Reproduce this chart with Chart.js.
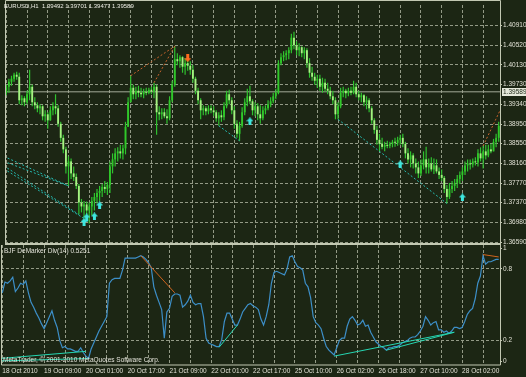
<!DOCTYPE html>
<html lang="en">
<head>
<meta charset="UTF-8">
<title>EURUSD,H1</title>
<script src="https://cdn.jsdelivr.net/npm/chart.js@4.4.0/dist/chart.umd.min.js"></script>
<style>
  html, body { margin: 0; padding: 0; background: #1c2614; }
  #wrap { position: relative; width: 526px; height: 377px; overflow: hidden; background: #1c2614; }
  #priceBox { position: absolute; left: 0; top: 0; width: 526px; height: 252px; }
  #demBox { position: absolute; left: 0; top: 245px; width: 526px; height: 132px; }
</style>
</head>
<body>
<div id="wrap">
  <div id="demBox"><canvas id="dem"></canvas></div>
  <div id="priceBox"><canvas id="price"></canvas></div>
</div>
<script>
// ---- data (EURUSD H1, one value per bar, bar 0 = 18 Oct 2010 17:00) ----
const titleText = 'EURUSD,H1  1.39492 1.39701 1.39477 1.39589';
const demTitle = 'BJF DeMarker Div(14) 0.5251';
const copyText = 'MetaTrader, \u00a9 2001-2010 MetaQuotes Software Corp.';
const bidPrice = 1.39589;
const bidLabel = '1.39589';

const timeLabels = ['18 Oct 2010', '19 Oct 09:00', '20 Oct 01:00', '20 Oct 17:00', '21 Oct 09:00', '22 Oct 01:00',
  '22 Oct 17:00', '25 Oct 10:00', '26 Oct 02:00', '26 Oct 18:00', '27 Oct 10:00', '28 Oct 02:00'];
const priceTickLabels = ['1.36590', '1.36980', '1.37370', '1.37770', '1.38160', '1.38550',
  '1.38950', '1.39340', '1.39730', '1.40130', '1.40520', '1.40910'];
const demTickLabels = ['0', '0.2', '0.8', '1'];

const openP = [
  1.3957, 1.3969, 1.3979, 1.3985, 1.3993, 1.3989, 1.3942, 1.3946, 1.3938, 1.3954,
  1.3969, 1.3938, 1.3932, 1.3926, 1.3930, 1.3910, 1.3914, 1.3902, 1.3922, 1.3930,
  1.3926, 1.3895, 1.3867, 1.3844, 1.3810, 1.3820, 1.3796, 1.3789, 1.3771, 1.3738,
  1.3730, 1.3734, 1.3722, 1.3730, 1.3741, 1.3749, 1.3757, 1.3761, 1.3769, 1.3765,
  1.3773, 1.3810, 1.3824, 1.3836, 1.3840, 1.3836, 1.3846, 1.3889, 1.3938, 1.3967,
  1.3954, 1.3961, 1.3957, 1.3954, 1.3959, 1.3957, 1.3963, 1.3959, 1.3969, 1.3918,
  1.3914, 1.3918, 1.3910, 1.3906, 1.3942, 1.3973, 1.4024, 1.4020, 1.4028, 1.4009,
  1.4016, 1.4011, 1.4003, 1.3985, 1.3961, 1.3942, 1.3922, 1.3926, 1.3920, 1.3926,
  1.3922, 1.3918, 1.3906, 1.3912, 1.3908, 1.3930, 1.3954, 1.3942, 1.3922, 1.3895,
  1.3875, 1.3891, 1.3918, 1.3938, 1.3950, 1.3940, 1.3922, 1.3930, 1.3914, 1.3906,
  1.3922, 1.3926, 1.3934, 1.3940, 1.3950, 1.3957, 1.4016, 1.4028, 1.4032, 1.4036,
  1.4042, 1.4067, 1.4052, 1.4042, 1.4048, 1.4036, 1.4042, 1.4016, 1.3997, 1.3989,
  1.3981, 1.3985, 1.3969, 1.3977, 1.3965, 1.3961, 1.3950, 1.3942, 1.3914, 1.3930,
  1.3957, 1.3961, 1.3956, 1.3961, 1.3957, 1.3969, 1.3954, 1.3948, 1.3952, 1.3938,
  1.3942, 1.3926, 1.3902, 1.3883, 1.3863, 1.3855, 1.3849, 1.3853, 1.3851, 1.3855,
  1.3859, 1.3857, 1.3863, 1.3867, 1.3855, 1.3836, 1.3824, 1.3832, 1.3816, 1.3808,
  1.3796, 1.3812, 1.3824, 1.3808, 1.3816, 1.3804, 1.3812, 1.3800, 1.3793, 1.3787,
  1.3765, 1.3749, 1.3765, 1.3771, 1.3777, 1.3785, 1.3793, 1.3800, 1.3812, 1.3816,
  1.3814, 1.3820, 1.3818, 1.3836, 1.3826, 1.3840, 1.3832, 1.3844, 1.3840, 1.3859,
  1.3867];
const highP = [
  1.3973, 1.3985, 1.3991, 1.3997, 1.3999, 1.3997, 1.3952, 1.3950, 1.3961, 1.4003,
  1.3973, 1.3948, 1.3938, 1.3934, 1.3932, 1.3922, 1.3918, 1.3930, 1.3938, 1.3954,
  1.3932, 1.3899, 1.3873, 1.3849, 1.3830, 1.3826, 1.3810, 1.3796, 1.3775, 1.3745,
  1.3741, 1.3740, 1.3738, 1.3749, 1.3757, 1.3765, 1.3771, 1.3775, 1.3781, 1.3779,
  1.3820, 1.3836, 1.3846, 1.3848, 1.3853, 1.3853, 1.3899, 1.3948, 1.3991, 1.3973,
  1.3969, 1.3971, 1.3967, 1.3965, 1.3967, 1.3967, 1.3969, 1.3977, 1.3973, 1.3930,
  1.3926, 1.3926, 1.3924, 1.3950, 1.3981, 1.4050, 1.4036, 1.4032, 1.4030, 1.4026,
  1.4024, 1.4020, 1.4012, 1.3989, 1.3967, 1.3946, 1.3932, 1.3930, 1.3932, 1.3932,
  1.3930, 1.3922, 1.3918, 1.3922, 1.3938, 1.3961, 1.3963, 1.3948, 1.3930, 1.3902,
  1.3899, 1.3928, 1.3946, 1.3965, 1.3971, 1.3944, 1.3938, 1.3936, 1.3932, 1.3930,
  1.3932, 1.3942, 1.3948, 1.3957, 1.3965, 1.4022, 1.4036, 1.4040, 1.4042, 1.4048,
  1.4075, 1.4079, 1.4060, 1.4056, 1.4050, 1.4048, 1.4046, 1.4026, 1.4009, 1.3997,
  1.3993, 1.3993, 1.3987, 1.3985, 1.3977, 1.3969, 1.3961, 1.3948, 1.3938, 1.3967,
  1.3969, 1.3965, 1.3967, 1.3969, 1.3981, 1.3977, 1.3961, 1.3957, 1.3954, 1.3950,
  1.3946, 1.3930, 1.3906, 1.3891, 1.3875, 1.3867, 1.3859, 1.3861, 1.3859, 1.3863,
  1.3867, 1.3869, 1.3873, 1.3875, 1.3859, 1.3846, 1.3840, 1.3836, 1.3826, 1.3820,
  1.3824, 1.3840, 1.3849, 1.3826, 1.3828, 1.3826, 1.3824, 1.3808, 1.3804, 1.3791,
  1.3773, 1.3777, 1.3781, 1.3785, 1.3793, 1.3800, 1.3808, 1.3820, 1.3824, 1.3824,
  1.3826, 1.3828, 1.3844, 1.3848, 1.3851, 1.3853, 1.3853, 1.3855, 1.3865, 1.3875,
  1.3899];
const lowP = [
  1.3952, 1.3957, 1.3971, 1.3979, 1.3983, 1.3934, 1.3932, 1.3930, 1.3934, 1.3942,
  1.3930, 1.3924, 1.3918, 1.3914, 1.3902, 1.3899, 1.3885, 1.3901, 1.3912, 1.3914,
  1.3889, 1.3859, 1.3836, 1.3796, 1.3771, 1.3785, 1.3781, 1.3765, 1.3714, 1.3718,
  1.3706, 1.3710, 1.3696, 1.3712, 1.3722, 1.3736, 1.3741, 1.3749, 1.3757, 1.3753,
  1.3757, 1.3796, 1.3810, 1.3820, 1.3826, 1.3824, 1.3834, 1.3889, 1.3938, 1.3944,
  1.3944, 1.3948, 1.3948, 1.3946, 1.3952, 1.3954, 1.3954, 1.3946, 1.3873, 1.3902,
  1.3904, 1.3906, 1.3895, 1.3902, 1.3938, 1.3969, 1.4012, 1.4007, 1.3997, 1.3993,
  1.4001, 1.3993, 1.3977, 1.3954, 1.3934, 1.3904, 1.3912, 1.3912, 1.3914, 1.3916,
  1.3910, 1.3899, 1.3891, 1.3899, 1.3902, 1.3926, 1.3934, 1.3914, 1.3885, 1.3867,
  1.3861, 1.3887, 1.3912, 1.3930, 1.3934, 1.3912, 1.3910, 1.3902, 1.3895, 1.3902,
  1.3914, 1.3922, 1.3928, 1.3936, 1.3944, 1.3954, 1.4012, 1.4020, 1.4022, 1.4024,
  1.4036, 1.4044, 1.4032, 1.4030, 1.4028, 1.4024, 1.4007, 1.3987, 1.3981, 1.3973,
  1.3967, 1.3961, 1.3957, 1.3959, 1.3954, 1.3944, 1.3934, 1.3904, 1.3904, 1.3926,
  1.3948, 1.3946, 1.3950, 1.3952, 1.3954, 1.3948, 1.3942, 1.3938, 1.3930, 1.3924,
  1.3918, 1.3895, 1.3875, 1.3853, 1.3840, 1.3844, 1.3840, 1.3846, 1.3846, 1.3848,
  1.3849, 1.3851, 1.3853, 1.3848, 1.3826, 1.3816, 1.3808, 1.3806, 1.3796, 1.3787,
  1.3791, 1.3804, 1.3796, 1.3796, 1.3800, 1.3795, 1.3796, 1.3785, 1.3781, 1.3757,
  1.3736, 1.3745, 1.3757, 1.3761, 1.3767, 1.3775, 1.3781, 1.3793, 1.3800, 1.3804,
  1.3808, 1.3812, 1.3810, 1.3820, 1.3806, 1.3824, 1.3828, 1.3836, 1.3840, 1.3848,
  1.3859];
const closeP = [
  1.3969, 1.3979, 1.3985, 1.3993, 1.3989, 1.3942, 1.3946, 1.3938, 1.3954, 1.3969,
  1.3938, 1.3932, 1.3926, 1.3930, 1.3910, 1.3914, 1.3902, 1.3922, 1.3930, 1.3926,
  1.3895, 1.3867, 1.3844, 1.3810, 1.3820, 1.3796, 1.3789, 1.3771, 1.3738, 1.3730,
  1.3734, 1.3722, 1.3730, 1.3741, 1.3749, 1.3757, 1.3761, 1.3769, 1.3765, 1.3773,
  1.3810, 1.3824, 1.3836, 1.3840, 1.3836, 1.3846, 1.3889, 1.3938, 1.3967, 1.3954,
  1.3961, 1.3957, 1.3954, 1.3959, 1.3957, 1.3963, 1.3959, 1.3969, 1.3918, 1.3914,
  1.3918, 1.3910, 1.3906, 1.3942, 1.3973, 1.4024, 1.4020, 1.4028, 1.4009, 1.4016,
  1.4011, 1.4003, 1.3985, 1.3961, 1.3942, 1.3922, 1.3926, 1.3920, 1.3926, 1.3922,
  1.3918, 1.3906, 1.3912, 1.3908, 1.3930, 1.3954, 1.3942, 1.3922, 1.3895, 1.3875,
  1.3891, 1.3918, 1.3938, 1.3950, 1.3940, 1.3922, 1.3930, 1.3914, 1.3906, 1.3922,
  1.3926, 1.3934, 1.3940, 1.3950, 1.3957, 1.4016, 1.4028, 1.4032, 1.4036, 1.4042,
  1.4067, 1.4052, 1.4042, 1.4048, 1.4036, 1.4042, 1.4016, 1.3997, 1.3989, 1.3981,
  1.3985, 1.3969, 1.3977, 1.3965, 1.3961, 1.3950, 1.3942, 1.3914, 1.3930, 1.3957,
  1.3961, 1.3956, 1.3961, 1.3957, 1.3969, 1.3954, 1.3948, 1.3952, 1.3938, 1.3942,
  1.3926, 1.3902, 1.3883, 1.3863, 1.3855, 1.3849, 1.3853, 1.3851, 1.3855, 1.3859,
  1.3857, 1.3863, 1.3867, 1.3855, 1.3836, 1.3824, 1.3832, 1.3816, 1.3808, 1.3796,
  1.3812, 1.3824, 1.3808, 1.3816, 1.3804, 1.3812, 1.3800, 1.3793, 1.3787, 1.3765,
  1.3749, 1.3765, 1.3771, 1.3777, 1.3785, 1.3793, 1.3800, 1.3812, 1.3816, 1.3814,
  1.3820, 1.3818, 1.3836, 1.3826, 1.3840, 1.3832, 1.3844, 1.3840, 1.3859, 1.3867,
  1.3891];
const demarker = [
  0.60, 0.69, 0.68, 0.70, 0.73, 0.61, 0.64, 0.68, 0.67, 0.70,
  0.60, 0.52, 0.48, 0.43, 0.39, 0.34, 0.30, 0.35, 0.40, 0.45,
  0.37, 0.31, 0.20, 0.14, 0.15, 0.13, 0.13, 0.12, 0.11, 0.11,
  0.14, 0.10, 0.07, 0.05, 0.13, 0.18, 0.23, 0.28, 0.32, 0.36,
  0.40, 0.68, 0.71, 0.72, 0.72, 0.72, 0.79, 0.89, 0.89, 0.89,
  0.89, 0.89, 0.90, 0.91, 0.90, 0.88, 0.85, 0.81, 0.65, 0.58,
  0.52, 0.46, 0.22, 0.44, 0.47, 0.57, 0.59, 0.59, 0.58, 0.48,
  0.50, 0.53, 0.58, 0.52, 0.50, 0.51, 0.51, 0.40, 0.22, 0.18,
  0.17, 0.16, 0.15, 0.15, 0.21, 0.36, 0.43, 0.43, 0.38, 0.33,
  0.33, 0.38, 0.44, 0.47, 0.50, 0.51, 0.49, 0.48, 0.46, 0.38,
  0.33, 0.40, 0.50, 0.68, 0.77, 0.78, 0.77, 0.76, 0.75, 0.80,
  0.90, 0.91, 0.86, 0.82, 0.81, 0.79, 0.68, 0.65, 0.56, 0.40,
  0.35, 0.33, 0.30, 0.22, 0.15, 0.12, 0.10, 0.08, 0.14, 0.20,
  0.22, 0.22, 0.32, 0.38, 0.40, 0.37, 0.33, 0.34, 0.37, 0.32,
  0.33, 0.27, 0.23, 0.19, 0.17, 0.15, 0.14, 0.12, 0.14, 0.14,
  0.15, 0.15, 0.16, 0.18, 0.19, 0.20, 0.22, 0.23, 0.23, 0.25,
  0.28, 0.32, 0.40, 0.37, 0.33, 0.35, 0.36, 0.29, 0.29, 0.27,
  0.28, 0.26, 0.28, 0.31, 0.31, 0.30, 0.31, 0.36, 0.42, 0.45,
  0.47, 0.55, 0.68, 0.74, 0.91, 0.84, 0.86, 0.86, 0.87, 0.88,
  0.88];

// divergence arrows (bar index, price)
const upArrowBars = [30, 31, 34, 36, 94, 152, 176];
const upArrowPrices = [1.3699, 1.3708, 1.3710, 1.3732, 1.3900, 1.3814, 1.3748];
const downArrowBars = [70];
const downArrowPrices = [1.4026];

// divergence trend lines: [bar, price] pairs on the price panel
const bullLinesPrice = [
  [[-0.9, 1.3830], [24, 1.3771]],
  [[-0.9, 1.3820], [24, 1.3771]],
  [[-0.9, 1.3811], [28, 1.3714]],
  [[-0.9, 1.3805], [30, 1.3706]],
  [[82, 1.3891], [90, 1.3861]],
  [[128, 1.3904], [170, 1.3736]]
];
const bearLinesPrice = [
  [[48, 1.3991], [65, 1.4050]],
  [[57, 1.3977], [65, 1.4050]],
  [[184, 1.3851], [191, 1.3927]]
];
// and on the DeMarker panel: [bar, value]
const bullLinesDem = [
  [[-0.9, 0.05], [32, 0.11]],
  [[-0.9, 0.03], [33, 0.05]],
  [[83, 0.145], [90, 0.33]],
  [[127, 0.07], [173, 0.27]],
  [[147, 0.12], [173, 0.27]]
];
const bearLinesDem = [
  [[53, 0.91], [66, 0.60]],
  [[184, 0.92], [190, 0.90]]
];

// ---- look ----
const FONT = '"Liberation Sans", Arial, sans-serif';
const FS = 6.5;
const gridColor = '#939a86';
const frameColor = '#c2c8b2';
const textColor = '#e0e0d4';
const bullBody = '#30c82a';
const bearBody = '#a6f282';
const wickColor = '#2fc22f';
Chart.defaults.font.family = FONT;
Chart.defaults.font.size = FS;
Chart.defaults.color = textColor;

// price scale: 1.36590 sits on the bottom grid line, 1.40910 on the top one
const pxPerUnit = 220 / (1.40910 - 1.36590);
const priceMin = 1.36590 - 1 / pxPerUnit;
const priceMax = 1.40910 + 21 / pxPerUnit;
const priceTickValues = priceTickLabels.map((_, k) => 1.36590 + k * (1.40910 - 1.36590) / 11);
const demTickValues = [0.025, 0.2, 0.8, 0.97];
const gridBars = [];
for (let b = 0; b <= 190; b += 8) gridBars.push(b);

const bars = closeP.map((_, i) => i);

function arrowImage(color, up) {
  const c = document.createElement('canvas');
  c.width = 7; c.height = 8;
  const g = c.getContext('2d');
  g.fillStyle = color;
  g.beginPath();
  if (up) {
    g.moveTo(3.5, 0); g.lineTo(7, 4); g.lineTo(5, 4); g.lineTo(5, 8); g.lineTo(2, 8); g.lineTo(2, 4); g.lineTo(0, 4);
  } else {
    g.moveTo(3.5, 8); g.lineTo(7, 4); g.lineTo(5, 4); g.lineTo(5, 0); g.lineTo(2, 0); g.lineTo(2, 4); g.lineTo(0, 4);
  }
  g.closePath();
  g.fill();
  return c;
}

function lineSets(list, color, dash, order) {
  return list.map(pts => ({
    type: 'line',
    data: pts.map(p => ({ x: p[0], y: p[1] })),
    borderColor: color,
    borderWidth: 1,
    borderDash: dash,
    pointRadius: 0,
    order: order
  }));
}

const xCommon = {
  type: 'linear',
  min: -0.5,
  max: 190.5,
  offset: false,
  afterBuildTicks: s => { s.ticks = gridBars.map(v => ({ value: v })); },
  grid: { color: gridColor, offset: false, drawTicks: false },
  border: { display: false, dash: [3, 2] }
};

const pricePanel = {
  id: 'pricePanel',
  afterDraw(chart) {
    const { ctx, chartArea: a, scales } = chart;
    ctx.save();
    ctx.strokeStyle = frameColor;
    ctx.lineWidth = 1;
    ctx.beginPath();
    ctx.moveTo(a.left + 0.5, a.bottom);
    ctx.lineTo(a.left + 0.5, 0.5);
    ctx.lineTo(a.right + 0.5, 0.5);
    ctx.lineTo(a.right + 0.5, a.bottom + 2);
    ctx.stroke();
    ctx.lineWidth = 2;
    ctx.beginPath();
    ctx.moveTo(a.left, a.bottom + 1);
    ctx.lineTo(a.right + 1, a.bottom + 1);
    ctx.stroke();
    // bid price label
    const y = scales.y.getPixelForValue(bidPrice);
    ctx.fillStyle = '#e4e8da';
    ctx.fillRect(a.right + 2, Math.round(y) - 4, 24, 8);
    ctx.font = FS + 'px ' + FONT;
    ctx.textBaseline = 'middle';
    ctx.fillStyle = '#1c2614';
    ctx.fillText(bidLabel, a.right + 3, y);
    // symbol title
    ctx.font = '6px ' + FONT;
    ctx.fillStyle = '#ecece4';
    ctx.fillText(titleText, 4, 6.5);
    ctx.restore();
  }
};

const demPanel = {
  id: 'demPanel',
  afterDraw(chart) {
    const { ctx, chartArea: a } = chart;
    ctx.save();
    ctx.strokeStyle = frameColor;
    ctx.lineWidth = 1;
    ctx.beginPath();
    ctx.moveTo(a.left + 0.5, 0);
    ctx.lineTo(a.left + 0.5, a.bottom + 0.5);
    ctx.lineTo(a.right + 0.5, a.bottom + 0.5);
    ctx.lineTo(a.right + 0.5, 0);
    ctx.stroke();
    ctx.font = FS + 'px ' + FONT;
    ctx.textBaseline = 'middle';
    ctx.fillStyle = '#e4e4da';
    ctx.fillText(demTitle, 4, 6.7);
    ctx.fillText(copyText, 3, 115.7);
    ctx.restore();
  }
};

// ---- price chart ----
const priceChart = new Chart(document.getElementById('price'), {
  type: 'bar',
  data: {
    datasets: [
      {
        type: 'line',
        data: [{ x: -1, y: bidPrice }, { x: 192, y: bidPrice }],
        borderColor: '#a3a998',
        borderWidth: 1,
        pointRadius: 0,
        order: 10
      },
      {
        data: bars.map(i => ({ x: i, y: [lowP[i], highP[i]] })),
        backgroundColor: wickColor,
        maxBarThickness: 1.2,
        order: 6
      },
      {
        data: bars.map(i => ({ x: i, y: [openP[i], closeP[i]] })),
        backgroundColor: bars.map(i => closeP[i] > openP[i] ? bullBody : bearBody),
        maxBarThickness: 2.4,
        minBarLength: 1,
        order: 5
      },
      ...lineSets(bullLinesPrice, '#25b9b0', [2, 2], 3),
      ...lineSets(bearLinesPrice, '#c8642c', [2, 2], 3),
      {
        type: 'scatter',
        data: upArrowBars.map((b, k) => ({ x: b, y: upArrowPrices[k] })),
        pointStyle: arrowImage('#3ee6de', true),
        order: 1
      },
      {
        type: 'scatter',
        data: downArrowBars.map((b, k) => ({ x: b, y: downArrowPrices[k] })),
        pointStyle: arrowImage('#ff6a1e', false),
        order: 1
      }
    ]
  },
  options: {
    responsive: true,
    maintainAspectRatio: false,
    animation: false,
    events: [],
    layout: { padding: { left: 1, top: 1, right: 0, bottom: 9 } },
    datasets: { bar: { grouped: false } },
    plugins: { legend: { display: false }, tooltip: { enabled: false } },
    scales: {
      x: Object.assign({}, xCommon, {
        ticks: { display: false },
        afterFit: s => { s.height = 0; s.paddingLeft = 0; s.paddingRight = 0; }
      }),
      y: {
        position: 'right',
        min: priceMin,
        max: priceMax,
        afterBuildTicks: s => { s.ticks = priceTickValues.map(v => ({ value: v })); },
        ticks: {
          callback: (v, i) => priceTickLabels[i],
          color: textColor,
          padding: 1
        },
        grid: { color: gridColor, tickLength: 2, tickColor: frameColor, tickBorderDash: [] },
        border: { display: false, dash: [3, 2] },
        afterFit: s => { s.width = 26; s.paddingTop = 0; s.paddingBottom = 0; }
      }
    }
  },
  plugins: [pricePanel]
});

// ---- DeMarker chart ----
const demChart = new Chart(document.getElementById('dem'), {
  type: 'line',
  data: {
    datasets: [
      {
        data: bars.map(i => ({ x: i, y: demarker[i] })),
        borderColor: '#3d8fc8',
        borderWidth: 1.2,
        pointRadius: 0,
        order: 5
      },
      ...lineSets(bullLinesDem, '#26d6b2', [], 2),
      ...lineSets(bearLinesDem, '#d0641e', [], 2)
    ]
  },
  options: {
    responsive: true,
    maintainAspectRatio: false,
    animation: false,
    events: [],
    layout: { padding: { left: 1, top: 0, right: 0, bottom: 0 } },
    plugins: { legend: { display: false }, tooltip: { enabled: false } },
    scales: {
      x: Object.assign({}, xCommon, {
        ticks: {
          callback: v => (v % 16 === 0 ? timeLabels[v / 16] : ''),
          align: 'start',
          autoSkip: false,
          maxRotation: 0,
          padding: 3,
          color: textColor
        },
        afterFit: s => { s.height = 12.5; s.paddingLeft = 0; s.paddingRight = 0; }
      }),
      y: {
        position: 'right',
        min: 0,
        max: 1,
        afterBuildTicks: s => { s.ticks = demTickValues.map(v => ({ value: v })); },
        ticks: {
          callback: (v, i) => demTickLabels[i],
          color: textColor,
          padding: 1
        },
        grid: {
          color: c => (c.tick && (c.tick.value === 0.2 || c.tick.value === 0.8)) ? gridColor : 'rgba(0,0,0,0)',
          tickLength: 2,
          tickColor: frameColor,
          tickBorderDash: []
        },
        border: { display: false, dash: [3, 2] },
        afterFit: s => { s.width = 26; s.paddingTop = 0; s.paddingBottom = 0; }
      }
    }
  },
  plugins: [demPanel]
});
</script>
</body>
</html>
